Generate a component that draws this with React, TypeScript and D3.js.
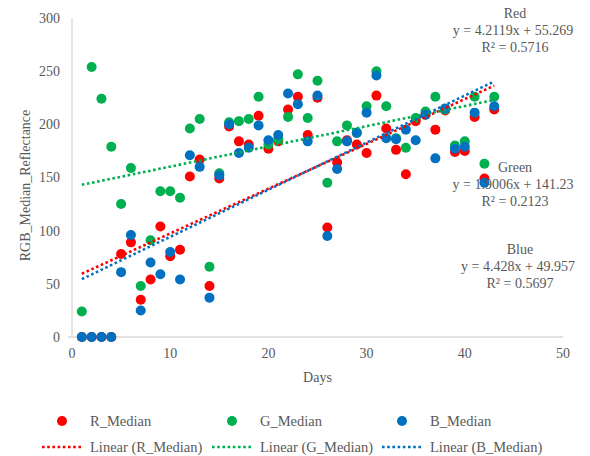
import React from "react";
import * as d3 from "d3";

// Day of measurement
const days = [
  1, 2, 3, 4, 5, 6, 7, 8, 9, 10, 11, 12, 13, 14, 15, 16, 17, 18, 19, 20, 21, 22,
  23, 24, 25, 26, 27, 28, 29, 30, 31, 32, 33, 34, 35, 36, 37, 38, 39, 40, 41, 42, 43,
];

// Median reflectance per channel
const rMedian = [
  0, 0, 0, 0, 78, 89, 35, 54, 104, 76, 82, 151, 167, 48, 149, 198, 184, 181, 208, 177, 184, 214,
  226, 190, 225, 103, 164, 185, 181, 173, 227, 196, 176, 153, 203, 209, 195, 213, 174, 175, 207, 149, 214,
];
const gMedian = [
  24, 254, 224, 179, 125, 159, 48, 91, 137, 137, 131, 196, 205, 66, 154, 202, 203, 205, 226, 181, 186, 207,
  247, 206, 241, 145, 184, 199, 192, 217, 250, 217, 187, 178, 206, 212, 226, 214, 180, 184, 226, 163, 226,
];
const bMedian = [
  0, 0, 0, 0, 61, 96, 25, 70, 59, 80, 54, 171, 160, 37, 152, 200, 173, 178, 199, 185, 190, 229,
  219, 184, 227, 95, 158, 184, 192, 211, 246, 187, 186, 195, 185, 209, 168, 215, 177, 179, 211, 145, 217,
];

// Linear trend fits (slope, intercept, R²)
const trendSlopes = [4.2119, 1.9006, 4.428];
const trendIntercepts = [55.269, 141.23, 49.957];
const trendR2 = ["0.5716", "0.2123", "0.5697"];
const trendNames = ["Red", "Green", "Blue"];
const equationTexts = ["y = 4.2119x + 55.269", "y = 1.9006x + 141.23", "y = 4.428x + 49.957"];

const seriesNames = ["R_Median", "G_Median", "B_Median"];
const seriesColors = ["#FF0000", "#00B050", "#0070C0"];

const xTicks = [0, 10, 20, 30, 40, 50];
const yTicks = [0, 50, 100, 150, 200, 250, 300];

const W = 590;
const H = 456;
const FONT = "'Liberation Serif', 'DejaVu Serif', 'Times New Roman', serif";
const TEXT = "#595959";

export default function App() {
  const x = d3.scaleLinear().domain([0, 50]).range([72, 563]);
  const y = d3.scaleLinear().domain([0, 300]).range([337, 18]);
  const series = [rMedian, gMedian, bMedian];

  const xMin = d3.min(days) as number;
  const xMax = d3.max(days) as number;

  // label block positions for the trend equations
  const labelPos = [
    { cx: 515, top: 18 },
    { cx: 515, top: 171.5 },
    { cx: 520, top: 254 },
  ];

  const legendCols = [62, 232, 402];
  const ts = (size: number) => ({ fontFamily: FONT, fontSize: size, fill: TEXT });

  return (
    <svg
      width={W}
      height={H}
      style={{ position: "absolute", left: 0, top: 0, background: "#fff", fontFamily: FONT }}
    >
      {/* axes */}
      <line x1={x(0)} x2={x(0)} y1={y(300)} y2={y(0)} stroke="#D9D9D9" strokeWidth={1.3} />
      <line x1={x(0) - 4} x2={x(50)} y1={y(0)} y2={y(0)} stroke="#D9D9D9" strokeWidth={1.3} />

      {yTicks.map((t) => (
        <text key={"y" + t} x={60} y={y(t)} dy="0.35em" textAnchor="end" style={ts(14)}>
          {t}
        </text>
      ))}
      {xTicks.map((t) => (
        <text key={"x" + t} x={x(t)} y={358} textAnchor="middle" style={ts(14)}>
          {t}
        </text>
      ))}

      <text
        transform={`translate(30, ${(y(0) + y(300)) / 2 + 8}) rotate(-90)`}
        textAnchor="middle"
        style={ts(14)}
      >
        RGB_Median_Reflectance
      </text>
      <text x={(x(0) + x(50)) / 2} y={382} textAnchor="middle" style={ts(14)}>
        Days
      </text>

      {/* markers */}
      {series.map((vals, si) => (
        <g key={"s" + si} fill={seriesColors[si]}>
          {vals.map((v, i) => (
            <circle key={i} cx={x(days[i])} cy={y(v)} r={5} />
          ))}
        </g>
      ))}

      {/* trend lines */}
      {trendSlopes.map((m, si) => {
        const b = trendIntercepts[si];
        const l = d3
          .line<number>()
          .x((d) => x(d))
          .y((d) => y(m * d + b));
        return (
          <path
            key={"t" + si}
            d={l([xMin, xMax]) || ""}
            fill="none"
            stroke={seriesColors[si]}
            strokeWidth={2.6}
            strokeDasharray="2.6 2.6"
          />
        );
      })}

      {/* trend equations */}
      {trendNames.map((n, i) => (
        <text key={"lab" + i} textAnchor="middle" style={ts(14)}>
          <tspan x={labelPos[i].cx} y={labelPos[i].top}>
            {n}
          </tspan>
          <tspan x={labelPos[i].cx - 2} y={labelPos[i].top + 17}>
            {equationTexts[i]}
          </tspan>
          <tspan x={labelPos[i].cx} y={labelPos[i].top + 34}>
            {"R² = " + trendR2[i]}
          </tspan>
        </text>
      ))}

      {/* legend */}
      {seriesNames.map((n, i) => {
        const c = legendCols[i];
        const seg = d3.line<number>().x((d) => d).y(() => 447);
        return (
          <g key={"lg" + i}>
            <circle cx={c} cy={421} r={5} fill={seriesColors[i]} />
            <text x={c + 28} y={426} style={ts(14.5)}>
              {n}
            </text>
            <path
              d={seg([c - 20, c + 21]) || ""}
              stroke={seriesColors[i]}
              strokeWidth={2.6}
              strokeDasharray="2.6 2.6"
              fill="none"
            />
            <text x={c + 28} y={452} style={ts(14.5)}>
              {"Linear (" + n + ")"}
            </text>
          </g>
        );
      })}
    </svg>
  );
}
